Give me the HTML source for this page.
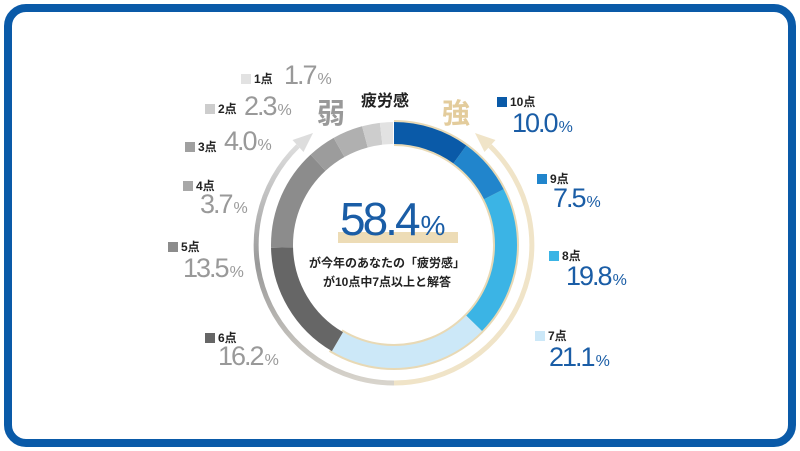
<!DOCTYPE html>
<html><head><meta charset="utf-8"><style>
body{margin:0;width:800px;height:451px;background:#fff;overflow:hidden;font-family:"Liberation Sans","Noto Sans CJK JP",sans-serif}
.frame{position:absolute;left:4px;top:4px;width:776px;height:427px;border:8px solid #0a5aa8;border-radius:22px;background:#fff}
.t{position:absolute;white-space:nowrap}
.lb{font-size:12px;font-weight:bold;color:#222}
.sq{display:inline-block;width:10px;height:10px;margin-right:3px;vertical-align:-1px}
.v{font-size:27px;letter-spacing:-2px;line-height:1}
.v small{font-size:16px;letter-spacing:0;margin-left:2px}
.b{color:#1a5da6}.g{color:#999}
</style></head><body>
<div class="frame"></div>
<svg width="800" height="451" style="position:absolute;left:0;top:0">
<defs><linearGradient id="gg" x1="0" y1="1" x2="0" y2="0"><stop offset="0" stop-color="#d8d4cc"/><stop offset="0.5" stop-color="#999"/><stop offset="1" stop-color="#ddd"/></linearGradient></defs>
<path d="M394 383 A138 138 0 0 0 490 146" fill="none" stroke="#f0e4c8" stroke-width="5"/>
<polygon points="475,133 495.5,140 484.5,152" fill="#f0e4c8"/>
<path d="M394 383 A138 138 0 0 1 298 146" fill="none" stroke="url(#gg)" stroke-width="5"/>
<polygon points="313,133 292.5,140 303.5,152" fill="#ddd"/>
<g transform="rotate(-90 394 245)" fill="none" stroke-width="22">
<circle cx="394" cy="245" r="112" stroke="#e8d9b5" stroke-width="26" stroke-dasharray="413 1000" stroke-dashoffset="0"/>
<circle cx="394" cy="245" r="112" stroke="#0a5aa8" stroke-dasharray="70.4 1000" stroke-dashoffset="0"/>
<circle cx="394" cy="245" r="112" stroke="#2185cc" stroke-dasharray="52.8 1000" stroke-dashoffset="-70.4"/>
<circle cx="394" cy="245" r="112" stroke="#3bb4e5" stroke-dasharray="139.3 1000" stroke-dashoffset="-123.2"/>
<circle cx="394" cy="245" r="112" stroke="#cce8f8" stroke-dasharray="148.5 1000" stroke-dashoffset="-262.5"/>
<circle cx="394" cy="245" r="112" stroke="#666" stroke-dasharray="114 1000" stroke-dashoffset="-411"/>
<circle cx="394" cy="245" r="112" stroke="#8c8c8c" stroke-dasharray="95 1000" stroke-dashoffset="-525"/>
<circle cx="394" cy="245" r="112" stroke="#9c9c9c" stroke-dasharray="26 1000" stroke-dashoffset="-620"/>
<circle cx="394" cy="245" r="112" stroke="#b0b0b0" stroke-dasharray="28 1000" stroke-dashoffset="-646"/>
<circle cx="394" cy="245" r="112" stroke="#cdcdcd" stroke-dasharray="16.5 1000" stroke-dashoffset="-674"/>
<circle cx="394" cy="245" r="112" stroke="#e2e2e2" stroke-dasharray="12 1000" stroke-dashoffset="-690.5"/>
</g>
<rect x="338" y="232" width="120" height="11" fill="#eddcb6"/>
</svg>
<div class="t b" style="left:340px;top:196px;font-size:46px;letter-spacing:-3px;line-height:1">58.4<span style="font-size:28px;letter-spacing:0;margin-left:3px">%</span></div>
<div class="t" style="left:309px;top:254px;font-size:12px;font-weight:bold;color:#222">が今年のあなたの「疲労感」</div>
<div class="t" style="left:323px;top:273px;font-size:12px;font-weight:bold;color:#222">が10点中7点以上と解答</div>
<div class="t" style="left:361px;top:87px;font-size:16px;font-weight:bold;color:#222">疲労感</div>
<div class="t" style="left:317px;top:92px;font-size:28px;font-weight:bold;color:#999">弱</div>
<div class="t" style="left:442px;top:92px;font-size:28px;font-weight:bold;color:#e3cc9c">強</div>

<div class="t lb" style="left:497px;top:93px"><span class="sq" style="background:#0a5aa8"></span>10点</div>
<div class="t v b" style="left:512px;top:110px">10.0<small>%</small></div>
<div class="t lb" style="left:537px;top:170px"><span class="sq" style="background:#2185cc"></span>9点</div>
<div class="t v b" style="left:553px;top:185px">7.5<small>%</small></div>
<div class="t lb" style="left:549px;top:247px"><span class="sq" style="background:#3bb4e5"></span>8点</div>
<div class="t v b" style="left:566px;top:263px">19.8<small>%</small></div>
<div class="t lb" style="left:535px;top:327px"><span class="sq" style="background:#cce8f8"></span>7点</div>
<div class="t v b" style="left:549px;top:344px">21.1<small>%</small></div>

<div class="t lb" style="left:241px;top:70px"><span class="sq" style="background:#e2e2e2"></span>1点</div>
<div class="t v g" style="left:284px;top:62px">1.7<small>%</small></div>
<div class="t lb" style="left:205px;top:100px"><span class="sq" style="background:#cdcdcd"></span>2点</div>
<div class="t v g" style="left:244px;top:93px">2.3<small>%</small></div>
<div class="t lb" style="left:185px;top:138px"><span class="sq" style="background:#a0a0a0"></span>3点</div>
<div class="t v g" style="left:224px;top:128px">4.0<small>%</small></div>
<div class="t lb" style="left:183px;top:177px"><span class="sq" style="background:#a8a8a8"></span>4点</div>
<div class="t v g" style="left:200px;top:191px">3.7<small>%</small></div>
<div class="t lb" style="left:168px;top:238px"><span class="sq" style="background:#8c8c8c"></span>5点</div>
<div class="t v g" style="left:183px;top:255px">13.5<small>%</small></div>
<div class="t lb" style="left:205px;top:329px"><span class="sq" style="background:#666"></span>6点</div>
<div class="t v g" style="left:218px;top:343px">16.2<small>%</small></div>
</body></html>
